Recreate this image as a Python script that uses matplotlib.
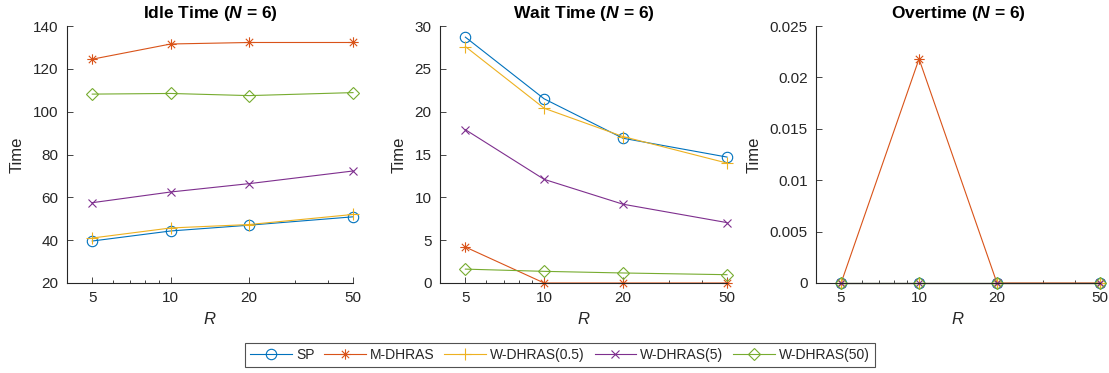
import matplotlib
matplotlib.use("Agg")
import matplotlib.pyplot as plt
from matplotlib.ticker import FixedLocator, NullFormatter
from matplotlib.path import Path
import numpy as np

plt.rcParams['font.family'] = ['Liberation Sans', 'DejaVu Sans']
plt.rcParams['mathtext.fontset'] = 'custom'
plt.rcParams['mathtext.bfit'] = 'Liberation Sans:bold:italic'
plt.rcParams['mathtext.it'] = 'Liberation Sans:italic'
plt.rcParams['mathtext.rm'] = 'Liberation Sans'

R = [5, 10, 20, 50]
series_names = ["SP", "M-DHRAS", "W-DHRAS(0.5)", "W-DHRAS(5)", "W-DHRAS(50)"]

idle_sp = [39.6, 44.3, 47.0, 50.9]
idle_m = [124.5, 131.6, 132.3, 132.3]
idle_w05 = [41.0, 45.7, 47.3, 52.0]
idle_w5 = [57.5, 62.5, 66.4, 72.3]
idle_w50 = [108.2, 108.5, 107.5, 108.9]

wait_sp = [28.7, 21.5, 16.9, 14.7]
wait_m = [4.2, 0.0, 0.0, 0.0]
wait_w05 = [27.6, 20.4, 17.1, 14.0]
wait_w5 = [17.9, 12.1, 9.2, 7.05]
wait_w50 = [1.62, 1.36, 1.17, 0.97]

over_sp = [0, 0, 0, 0]
over_m = [0, 0.0218, 0, 0]
over_w05 = [0, 0, 0, 0]
over_w5 = [0, 0, 0, 0]
over_w50 = [0, 0, 0, 0]

# MATLAB-like asterisk marker (+ overlaid with x)
d = np.sqrt(0.5)
ast_verts = [(-1, 0), (1, 0), (0, -1), (0, 1), (-d, -d), (d, d), (-d, d), (d, -d)]
ast_codes = [Path.MOVETO, Path.LINETO] * 4
asterisk = Path(ast_verts, ast_codes)

colors = ['#0072BD', '#D95319', '#EDB120', '#7E2F8E', '#77AC30']
markers = ['o', asterisk, '+', 'x', 'D']
msizes = [7.5, 7.5, 8, 6, 6.5]

panels = [
    ("Idle Time", [idle_sp, idle_m, idle_w05, idle_w5, idle_w50], (20, 140), [20, 40, 60, 80, 100, 120, 140], None),
    ("Wait Time", [wait_sp, wait_m, wait_w05, wait_w5, wait_w50], (0, 30), [0, 5, 10, 15, 20, 25, 30], None),
    ("Overtime", [over_sp, over_m, over_w05, over_w5, over_w50], (0, 0.025), [0, 0.005, 0.01, 0.015, 0.02, 0.025],
     ['0', '0.005', '0.01', '0.015', '0.02', '0.025']),
]

fig = plt.figure(figsize=(11.09, 3.73), dpi=100)
H = 373.0
W = 1109.0
boxes = [(67, 353), (440, 727), (816, 1100)]
top, bot = 26, 283
tc = '#262626'
handles = []
for i, ((title, data, ylim, yt, ytl), (l, r)) in enumerate(zip(panels, boxes)):
    ax = fig.add_axes([l / W, 1 - bot / H, (r - l) / W, (bot - top) / H])
    for j, ys in enumerate(data):
        ln, = ax.plot(R, ys, color=colors[j], marker=markers[j], markersize=msizes[j],
                      markerfacecolor='none', markeredgecolor=colors[j], markeredgewidth=0.8,
                      linewidth=0.8, label=series_names[j], clip_on=False)
        if i == 0:
            handles.append(ln)
    ax.set_xscale('log')
    ax.set_xlim(4, 50)
    ax.set_ylim(*ylim)
    ax.xaxis.set_major_locator(FixedLocator(R))
    ax.set_xticklabels([str(v) for v in R])
    ax.xaxis.set_minor_locator(FixedLocator([6, 7, 8, 9, 30, 40]))
    ax.xaxis.set_minor_formatter(NullFormatter())
    ax.set_yticks(yt)
    if ytl is not None:
        ax.set_yticklabels(ytl)
    for s in ['top', 'right']:
        ax.spines[s].set_visible(False)
    for s in ['left', 'bottom']:
        ax.spines[s].set_color(tc)
        ax.spines[s].set_linewidth(0.8)
    ax.tick_params(which='both', direction='in', colors=tc, labelsize=11, width=0.6)
    ax.tick_params(which='major', length=4, pad=6)
    ax.tick_params(which='minor', length=2.5)
    ax.set_title(title + r' ($\mathbfit{N}$ = 6)', fontsize=12.5, fontweight='bold', pad=6)
    ax.set_xlabel(r'$\mathit{R}$', fontsize=12, color=tc, labelpad=4)
    ax.set_ylabel('Time', fontsize=12, color=tc, labelpad=6)

leg = fig.legend(handles=handles, loc='center', bbox_to_anchor=(560 / W, 1 - 355 / H), ncol=5,
                 frameon=True, fancybox=False, fontsize=10, handlelength=3.0, handletextpad=0.3,
                 columnspacing=0.7, borderpad=0.35, edgecolor='#262626')
leg.get_frame().set_linewidth(0.8)
for t in leg.get_texts():
    t.set_color(tc)

fig.savefig('out.png', dpi=100)
